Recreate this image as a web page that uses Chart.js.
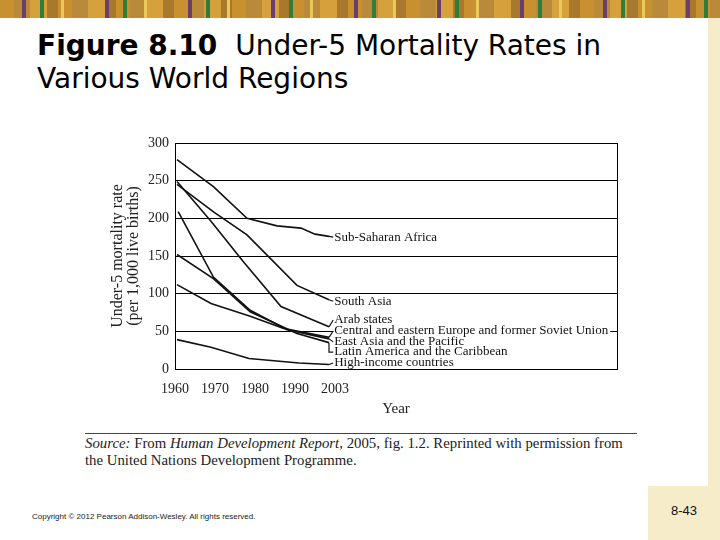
<!DOCTYPE html>
<html>
<head>
<meta charset="utf-8">
<script src="https://cdn.jsdelivr.net/npm/chart.js@4/dist/chart.umd.min.js"></script>
<style>
  body { margin: 0; width: 720px; height: 540px; position: relative; background: #fff; overflow: hidden; }
  #banner { position: absolute; left: 0; top: 0; width: 720px; height: 18px;
    background:
      repeating-linear-gradient(90deg, transparent 0 22px, #6b3f6b 22px 26px, transparent 26px 40px, #2f7d3a 40px 44px, transparent 44px 61px, #e9c95a 61px 64px, transparent 64px 83px),
      repeating-linear-gradient(90deg, #c8902f 0 14px, #b98a3a 14px 30px, #d6a13c 30px 47px, #a8782c 47px 58px);
  }
  #strip { position: absolute; left: 708px; top: 18px; width: 12px; height: 522px; background: #f6ecca; }
  #pagebox { position: absolute; left: 648px; top: 486px; width: 72px; height: 54px; background: #f6ecca;
    font: 13px "Liberation Sans", sans-serif; color: #111; text-align: center; line-height: 50px; }
  #title { position: absolute; left: 37px; top: 29px; font: 28px "DejaVu Sans", sans-serif;
    line-height: 33px; color: #000; }
  #rule { position: absolute; left: 85px; top: 433px; width: 552px; height: 1px; background: #444; }
  #source { position: absolute; left: 85px; top: 435px; font: 14.8px "Liberation Serif", serif; line-height: 17px; color: #222; }
  #copy { position: absolute; left: 32px; top: 512px; font: 8px "Liberation Sans", sans-serif; color: #222; }
  canvas { position: absolute; left: 0; top: 0; }
</style>
</head>
<body>
<div id="banner"></div>
<div id="strip"></div>
<div id="pagebox">8-43</div>
<div id="title"><b>Figure 8.10</b>&nbsp; Under-5 Mortality Rates in<br>Various World Regions</div>
<div id="rule"></div>
<div id="source"><i>Source:</i> From <i>Human Development Report</i>, 2005, fig. 1.2. Reprinted with permission from<br>the United Nations Development Programme.</div>
<div id="copy">Copyright © 2012 Pearson Addison-Wesley. All rights reserved.</div>
<canvas id="chart" width="720" height="540"></canvas>
<script>
// x positions are in "label slots": 0 = 1960, 1 = 1970, 2 = 1980, 3 = 1990, 4 = 2003
const yearLabels = ["1960", "1970", "1980", "1990", "2003"];
const yTicks = [0, 50, 100, 150, 200, 250, 300];

const subSaharanAfrica = [[0.05, 278], [0.96, 242], [1.8, 200], [2.55, 190], [3.15, 187], [3.5, 179], [3.85, 176]];
const southAsia = [[0.05, 245], [0.98, 208], [1.8, 178], [3.05, 111], [3.85, 92]];
const arabStates = [[0.05, 249], [0.9, 196], [1.7, 143], [2.65, 83], [3.85, 56]];
const centralEurope = [[0.05, 112], [0.9, 87], [1.88, 70], [2.7, 54], [3.85, 42]];
const eastAsia = [[0.08, 209], [0.96, 122], [1.88, 78], [2.8, 52], [3.85, 40]];
const latinAmerica = [[0.05, 152], [0.96, 120], [1.88, 76], [3.05, 47], [3.85, 35]];
const highIncome = [[0.05, 39], [0.9, 29], [1.85, 14], [3.1, 8], [3.85, 6]];

const seriesNames = [
  "Sub-Saharan Africa", "South Asia", "Arab states",
  "Central and eastern Europe and former Soviet Union",
  "East Asia and the Pacific", "Latin America and the Caribbean", "High-income countries"
];
const seriesData = [subSaharanAfrica, southAsia, arabStates, centralEurope, eastAsia, latinAmerica, highIncome];
// label anchor (in data units) for each series name
const labelX = 3.98;
const labelY = [175, 90, 65, 50.5, 36, 22.5, 8];

const serif = "'Liberation Serif', 'DejaVu Serif', serif";

const frame = {
  id: "frame",
  afterDraw(chart) {
    const { ctx, chartArea: a } = chart;
    ctx.save();
    ctx.strokeStyle = "#000";
    ctx.lineWidth = 1;
    ctx.strokeRect(Math.round(a.left) + 0.5, Math.round(a.top) + 0.5, Math.round(a.right - a.left), Math.round(a.bottom - a.top));
    ctx.restore();
  }
};

const seriesLabels = {
  id: "seriesLabels",
  afterDatasetsDraw(chart) {
    const { ctx, scales } = chart;
    ctx.save();
    ctx.font = "13px " + serif;
    ctx.textBaseline = "middle";
    const tx = scales.x.getPixelForValue(labelX);
    // white backing so gridlines stop at the text
    seriesNames.forEach((name, i) => {
      const ty = scales.y.getPixelForValue(labelY[i]);
      const w = ctx.measureText(name).width;
      ctx.fillStyle = "#fff";
      ctx.fillRect(tx - 1, ty - 4, w + 3, 8);
    });
    ctx.fillStyle = "#111";
    ctx.strokeStyle = "#111";
    ctx.lineWidth = 1.2;
    seriesNames.forEach((name, i) => {
      const pts = chart.getDatasetMeta(i).data;
      const end = pts[pts.length - 1];
      const ty = scales.y.getPixelForValue(labelY[i]);
      ctx.beginPath();
      ctx.moveTo(end.x, end.y);
      if (i === 5) {
        ctx.lineTo(end.x, ty);
        ctx.lineTo(tx - 1, ty);
      } else {
        ctx.lineTo(tx - 1, ty);
      }
      ctx.stroke();
      ctx.fillText(name, tx, ty);
    });
    ctx.restore();
  }
};

new Chart(document.getElementById("chart"), {
  type: "line",
  data: {
    datasets: seriesData.map((pts, i) => ({
      label: seriesNames[i],
      data: pts.map(p => ({ x: p[0], y: p[1] })),
      borderColor: "#111",
      borderWidth: 1.6,
      pointRadius: 0,
      tension: 0,
      fill: false
    }))
  },
  options: {
    responsive: false,
    animation: false,
    layout: { padding: { left: 110, top: 143, right: 103, bottom: 118 } },
    plugins: { legend: { display: false }, tooltip: { enabled: false } },
    scales: {
      x: {
        type: "linear",
        min: 0,
        max: 11.05,
        afterBuildTicks: s => { s.ticks = yearLabels.map((_, i) => ({ value: i })); },
        afterFit: s => { s.height = 53; },
        ticks: {
          callback: v => yearLabels[v],
          font: { family: serif, size: 14 },
          color: "#222",
          padding: 4,
          maxRotation: 0
        },
        grid: { display: false },
        border: { display: true, color: "#000", width: 1 },
        title: { display: true, text: "Year", font: { family: serif, size: 15 }, color: "#222", padding: 4 }
      },
      y: {
        min: 0,
        max: 300,
        afterBuildTicks: s => { s.ticks = yTicks.map(v => ({ value: v })); },
        afterFit: s => { s.width = 65; },
        ticks: { font: { family: serif, size: 14 }, color: "#222", padding: 6 },
        grid: { color: "#000", lineWidth: 1, drawTicks: false },
        border: { display: true, color: "#000", width: 1 },
        title: {
          display: true,
          text: ["Under-5 mortality rate", "(per 1,000 live births)"],
          font: { family: serif, size: 16, lineHeight: 1.0 },
          color: "#222",
          padding: 0
        }
      }
    }
  },
  plugins: [frame, seriesLabels]
});
</script>
</body>
</html>
